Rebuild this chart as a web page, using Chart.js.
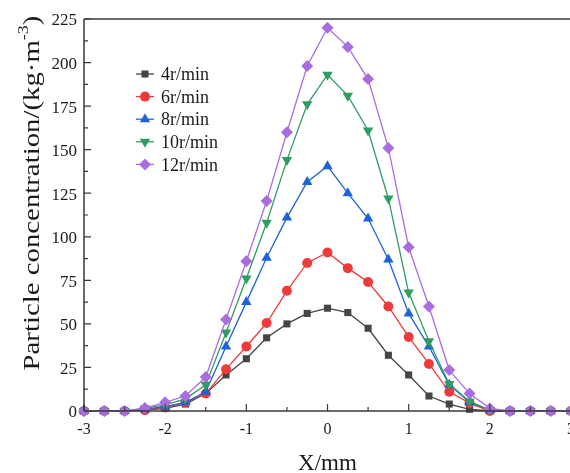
<!DOCTYPE html>
<html>
<head>
<meta charset="utf-8">
<script src="https://cdn.jsdelivr.net/npm/chart.js@4.4.1/dist/chart.umd.min.js"></script>
<style>
  html, body { margin: 0; padding: 0; background: #fff; overflow: hidden; }
  #wrap { width: 600px; height: 473px; }
</style>
</head>
<body>
<div id="wrap"><canvas id="chart" width="600" height="473"></canvas></div>
<script>
// x positions (mm) and concentrations for each rotation speed
const xPos  = [-3,-2.75,-2.5,-2.25,-2,-1.75,-1.5,-1.25,-1,-0.75,-0.5,-0.25,0,0.25,0.5,0.75,1,1.25,1.5,1.75,2,2.25,2.5,2.75,3];
const rpm4  = [0,0,0,0.5,1.5,4,10,20.7,30,42,50,56,59,56.5,47.5,32,20.7,8.6,4,1,0,0,0,0,0];
const rpm6  = [0,0,0,0.5,2,5,10,24,37,50.5,69,85,91,82,74,60,42.5,27,11,4.5,0,0,0,0,0];
const rpm8  = [0,0,0,1,2.5,5,11,37,62.5,88,111,131.5,140.5,125,110.5,87,56,37,15,5,0.5,0,0,0,0];
const rpm10 = [0,0,0,1.5,3.5,7,15,45,76,108,144,176,193,181,161,122,68,40,15.5,5.5,0.5,0,0,0,0];
const rpm12 = [0,0,0,1.7,5,8.6,19.5,52.5,86,120.5,160,198,220,209,190.5,151,94,60,23.5,10,1.5,0,0,0,0];
const seriesNames = ['4r/min','6r/min','8r/min','10r/min','12r/min'];
const xTicks = [-3,-2,-1,0,1,2,3];
const yTicks = [0,25,50,75,100,125,150,175,200,225];

const serif = "'Liberation Serif', 'Times New Roman', serif";
const axisColor = '#3a3a3a';
const textColor = '#1a1a1a';

const styles = [
  { color: '#454545', point: 'rect',     radius: 5, rot: 0 },
  { color: '#ee3a3a', point: 'circle',   radius: 5, rot: 0 },
  { color: '#1e63d6', point: 'triangle', radius: 6, rot: 0 },
  { color: '#2f9c62', point: 'triangle', radius: 6, rot: 180 },
  { color: '#a96de0', point: 'rectRot',  radius: 6, rot: 0 }
];
const values = [rpm4, rpm6, rpm8, rpm10, rpm12];

const datasets = values.map((vals, i) => ({
  label: seriesNames[i],
  data: xPos.map((x, k) => ({ x, y: vals[k] })),
  borderColor: styles[i].color,
  backgroundColor: styles[i].color,
  borderWidth: 1.3,
  pointStyle: styles[i].point,
  pointRadius: styles[i].radius,
  pointRotation: styles[i].rot,
  pointBorderWidth: 0,
  tension: 0,
  clip: false,
  order: 4 - i
}));

// plain text, optionally a bit taller than wide
function tallText(ctx, str, x, y, size, sy, align, baseline) {
  ctx.save();
  ctx.translate(x, y);
  ctx.scale(1, sy);
  ctx.font = size + 'px ' + serif;
  ctx.textAlign = align;
  ctx.textBaseline = baseline;
  ctx.fillStyle = textColor;
  ctx.fillText(str, 0, 0);
  ctx.restore();
}

// frame, inward ticks, tick labels, axis titles and the in-plot legend
const framePlugin = {
  id: 'frame',
  afterDraw(chart) {
    const { ctx, chartArea: a, scales: { x, y } } = chart;
    ctx.save();
    ctx.strokeStyle = axisColor;
    ctx.lineWidth = 1.5;
    ctx.beginPath();
    ctx.moveTo(a.left, a.top); ctx.lineTo(a.right, a.top);
    ctx.moveTo(a.left, a.top); ctx.lineTo(a.left, a.bottom);
    ctx.moveTo(a.left, a.bottom); ctx.lineTo(a.right, a.bottom);
    ctx.moveTo(a.right, a.top); ctx.lineTo(a.right, a.bottom);
    ctx.stroke();

    ctx.lineWidth = 1.2;
    ctx.beginPath();
    for (let v = x.min; v <= x.max + 1e-9; v += 0.5) {
      const px = x.getPixelForValue(v);
      const len = Math.abs(v - Math.round(v)) < 1e-9 ? 7 : 4;
      ctx.moveTo(px, a.bottom); ctx.lineTo(px, a.bottom - len);
    }
    for (let v = y.min; v <= y.max + 1e-9; v += 12.5) {
      const py = y.getPixelForValue(v);
      const len = (v % 25) === 0 ? 7 : 4;
      ctx.moveTo(a.left, py); ctx.lineTo(a.left + len, py);
    }
    ctx.stroke();

    // tick labels
    x.ticks.forEach(t => {
      tallText(ctx, String(t.value), x.getPixelForValue(t.value), a.bottom + 19, 16, 1, 'center', 'middle');
    });
    y.ticks.forEach(t => {
      tallText(ctx, String(t.value), a.left - 7, y.getPixelForValue(t.value) + 2, 17, 1, 'right', 'middle');
    });

    // x title
    tallText(ctx, 'X/mm', (a.left + a.right) / 2, 470, 23, 1, 'center', 'alphabetic');

    // y title with superscript, slightly stretched along its length
    const main = 'Particle concentration/(kg\u00b7m';
    const sup = '-3';
    const tail = ')';
    ctx.font = '24px ' + serif;
    const wMain = ctx.measureText(main).width;
    const wTail = ctx.measureText(tail).width;
    ctx.font = '15px ' + serif;
    const wSup = ctx.measureText(sup).width;
    const total = wMain + wSup + wTail;
    ctx.translate(39, 193);
    ctx.rotate(-Math.PI / 2);
    ctx.scale(1.2, 1);
    ctx.fillStyle = textColor;
    ctx.textAlign = 'left';
    ctx.textBaseline = 'alphabetic';
    let cx = -total / 2;
    ctx.font = '24px ' + serif;
    ctx.fillText(main, cx, 0); cx += wMain;
    ctx.font = '15px ' + serif;
    ctx.fillText(sup, cx, -11); cx += wSup;
    ctx.font = '24px ' + serif;
    ctx.fillText(tail, cx, 0);
    ctx.setTransform(1, 0, 0, 1, 0, 0);

    // legend
    const lx = 145, ly0 = 74, gap = 22.6;
    chart.data.datasets.forEach((ds, i) => {
      const ly = ly0 + i * gap;
      ctx.strokeStyle = ds.borderColor;
      ctx.lineWidth = 1.3;
      ctx.beginPath();
      ctx.moveTo(lx - 9, ly); ctx.lineTo(lx + 9, ly);
      ctx.stroke();
      ctx.fillStyle = ds.backgroundColor;
      Chart.helpers.drawPoint(ctx, {
        pointStyle: ds.pointStyle, radius: ds.pointRadius,
        rotation: ds.pointRotation, borderWidth: 0
      }, lx, ly);
      tallText(ctx, ds.label, 161, ly + 1, 18, 1.1, 'left', 'middle');
    });
    ctx.restore();
  }
};

new Chart(document.getElementById('chart'), {
  type: 'line',
  data: { datasets },
  options: {
    responsive: false,
    animation: false,
    events: [],
    layout: { padding: { top: 19, right: 29, left: 0, bottom: 0 } },
    plugins: { legend: { display: false }, tooltip: { enabled: false } },
    scales: {
      x: {
        type: 'linear', min: -3, max: 3,
        afterBuildTicks: s => { s.ticks = xTicks.map(v => ({ value: v })); },
        afterFit: s => { s.height = 62; },
        grid: { display: false, drawTicks: false },
        border: { display: false },
        ticks: { display: false }
      },
      y: {
        min: 0, max: 225,
        afterBuildTicks: s => { s.ticks = yTicks.map(v => ({ value: v })); },
        afterFit: s => { s.width = 84; },
        grid: { display: false, drawTicks: false },
        border: { display: false },
        ticks: { display: false }
      }
    }
  },
  plugins: [framePlugin]
});
</script>
</body>
</html>
